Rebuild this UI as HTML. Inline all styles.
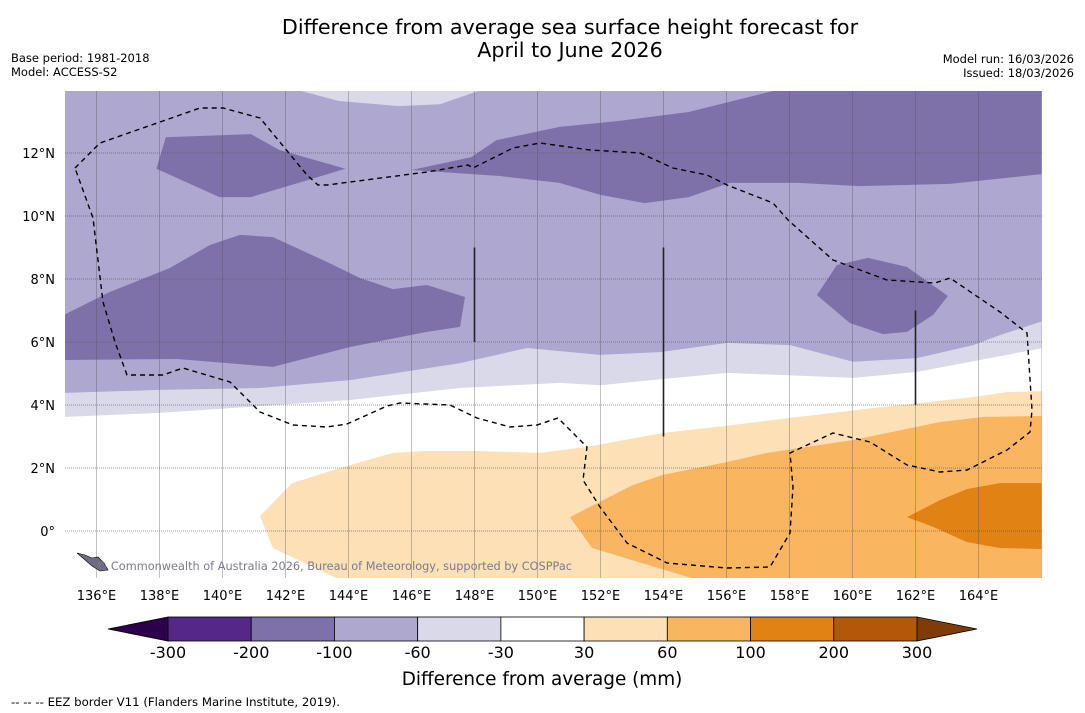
<!DOCTYPE html>
<html><head><meta charset="utf-8"><style>
body{margin:0;background:#fff;}
svg{display:block;font-family:"DejaVu Sans","Liberation Sans",sans-serif;}
</style></head><body>
<svg id="chart" width="1085" height="713" viewBox="0 0 1085 713" xmlns="http://www.w3.org/2000/svg">
<rect width="1085" height="713" fill="#fff"/>
<text x="570" y="34" font-size="20.7" text-anchor="middle" fill="#000">Difference from average sea surface height forecast for</text>
<text x="570" y="57" font-size="20.7" text-anchor="middle" fill="#000">April to June 2026</text>
<text x="11" y="62" font-size="11.5">Base period: 1981-2018</text>
<text x="11" y="76" font-size="11.5">Model: ACCESS-S2</text>
<text x="1074" y="63" font-size="11.5" text-anchor="end">Model run: 16/03/2026</text>
<text x="1074" y="77" font-size="11.5" text-anchor="end">Issued: 18/03/2026</text>
<defs><clipPath id="mapclip"><rect x="65" y="91" width="977" height="487"/></clipPath></defs>
<g id="map" clip-path="url(#mapclip)"></g>
<g id="axes"></g>
<g id="cbar"></g>
<text x="542" y="685" font-size="18.4" text-anchor="middle">Difference from average (mm)</text>
<text x="11" y="706" font-size="11.5" textLength="329" lengthAdjust="spacingAndGlyphs">--  --  -- EEZ border V11 (Flanders Marine Institute, 2019).</text>
</svg>
<script>
// ---- data ----
const lonTicks = [136,138,140,142,144,146,148,150,152,154,156,158,160,162,164];
const latTicks = [0,2,4,6,8,10,12];
const levels = [-300,-200,-100,-60,-30,30,60,100,200,300];
const levelColors = ["#542788","#7e71aa","#aea7cf","#d9d9ea","#ffffff","#fde0b6","#f9b55f","#e08214","#b35806"];
const extLow = "#2d004b", extHigh = "#7f3b08";
// contour polygons [lon,lat]
const lavenderBand = [[134.9,4.38],[138.02,4.48],[141.19,4.54],[144.05,4.79],[147.54,5.33],[149.67,5.81],[151.98,5.59],[153.89,5.68],[156.02,5.97],[158.02,5.9],[160.02,5.37],[162.05,5.49],[163.83,5.9],[164.68,6.22],[166,6.65],[166,-2],[134.9,-2]];
const whiteBand = [[134.9,3.62],[138.02,3.75],[144.05,4.16],[147.54,4.54],[150.71,4.7],[151.98,4.63],[156.02,5.02],[160.02,4.86],[162.05,5.05],[166,5.8],[166,-2],[134.9,-2]];
const topLightStrip = [[142.0,14.1],[143.7,13.65],[145.6,13.49],[146.9,13.55],[148.5,14.1]];
const darkTopLeft = [[138.2,12.5],[140.9,12.6],[141.8,12.1],[143.9,11.5],[142.9,11.2],[140.9,10.6],[139.9,10.6],[137.9,11.5]];
const darkTopRight = [[146.0,11.46],[147.9,11.87],[148.7,12.41],[150.7,12.83],[152.6,13.02],[154.8,13.3],[158.0,14.1],[166,14.1],[166,11.33],[163.1,11.02],[160.2,10.95],[158.3,11.05],[156.1,11.05],[154.8,10.6],[153.4,10.41],[152.0,10.67],[150.7,11.05],[148.8,11.27]];
const darkMidLeft = [[134.9,6.83],[136.43,7.59],[138.33,8.35],[139.6,9.08],[140.56,9.4],[141.6,9.33],[143.32,8.54],[144.37,8.03],[145.41,7.68],[146.49,7.81],[147.7,7.43],[147.54,6.48],[146.49,6.32],[144.05,5.84],[141.6,5.21],[138.56,5.46],[134.9,5.43]];
const darkMidRight = [[158.87,7.49],[159.5,8.44],[160.49,8.67],[161.73,8.38],[163.03,7.46],[162.56,6.86],[161.73,6.32],[160.97,6.25],[159.92,6.6]];
const paleOrange = [[141.19,0.48],[142.21,1.52],[143.83,2.03],[145.41,2.48],[146.49,2.54],[148.08,2.54],[150.08,2.48],[151.57,2.67],[153.98,3.11],[155.89,3.33],[158.02,3.59],[160.65,3.9],[163.83,4.25],[164.9,4.41],[166,4.44],[166,-1.7],[144.05,-1.7],[141.6,-0.54]];
const orange = [[151.03,0.44],[153.03,1.46],[153.98,1.78],[156.02,2.19],[157.29,2.48],[160.02,2.89],[162.78,3.46],[164.14,3.62],[166,3.65],[166,-1.7],[155.57,-1.7],[151.73,-0.54]];
const darkOrange = [[161.73,0.44],[162.78,0.98],[163.63,1.33],[164.68,1.52],[166,1.52],[166,-0.57],[164.68,-0.54],[163.63,-0.35],[162.56,0.13]];
// basemap EEZ border (pixel geometry)
const eezPath = [[75,168],[100,143],[160,122],[200,108],[223,108],[260,118],[307,175],[318,185],[327,185],[427,172],[468,165],[473,168],[513,148],[540,143],[590,150],[640,153],[673,168],[707,175],[727,185],[773,203],[788,220],[833,260],[887,280],[935,283],[950,278],[1000,312],[1027,333],[1032,410],[1030,432],[1007,450],[967,470],[940,472],[907,465],[870,442],[833,433],[790,453],[793,487],[790,533],[770,567],[727,568],[667,563],[627,543],[600,507],[583,480],[587,447],[558,418],[537,425],[510,427],[477,418],[450,405],[400,403],[387,406],[347,424],[327,427],[293,425],[260,412],[230,382],[183,368],[163,375],[127,375],[115,342],[103,302],[97,252],[93,218],[75,168]];
const vertMarks = [[148,6,9],[154,3,9],[162,4,7]];

// ---- axes functions ----
const X = lon => 65 + (lon-135)*31.5;
const Y = lat => 531 - lat*31.5;
const NS = "http://www.w3.org/2000/svg";
function mk(tag, attrs, parent){const e=document.createElementNS(NS,tag);for(const k in attrs)e.setAttribute(k,attrs[k]);parent.appendChild(e);return e;}
const map = document.getElementById('map');
const axes = document.getElementById('axes');
const cbar = document.getElementById('cbar');
function poly(pts, fill, name){
  const p = mk('polygon',{points:pts.map(q=>X(q[0]).toFixed(1)+','+Y(q[1]).toFixed(1)).join(' '),fill:fill},map);
  
  
}
const bg = mk('rect',{x:65,y:91,width:977,height:487,fill:levelColors[2]},map);


poly(topLightStrip, levelColors[3], 'contour-light-top');
poly(darkTopLeft, levelColors[1], 'contour-dark-top-left');
poly(darkTopRight, levelColors[1], 'contour-dark-top-right');
poly(darkMidLeft, levelColors[1], 'contour-dark-mid-left');
poly(darkMidRight, levelColors[1], 'contour-dark-mid-right');
poly(lavenderBand, levelColors[3], 'contour-lavender-band');
poly(whiteBand, levelColors[4], 'contour-neutral-band');
poly(paleOrange, levelColors[5], 'contour-pale-orange');
poly(orange, levelColors[6], 'contour-orange');
poly(darkOrange, levelColors[7], 'contour-dark-orange');
// grid
lonTicks.forEach(l=>{
  const g = mk('line',{x1:X(l),x2:X(l),y1:91,y2:578,stroke:'#555','stroke-width':0.8,'stroke-opacity':0.45},map);
  
  
});
latTicks.forEach(l=>{
  const g = mk('line',{x1:65,x2:1042,y1:Y(l),y2:Y(l),stroke:'#555','stroke-width':0.9,'stroke-dasharray':'1,1','stroke-opacity':0.6},map);
  
  
});
vertMarks.forEach(v=>{
  const m = mk('line',{x1:X(v[0]),x2:X(v[0]),y1:Y(v[2]),y2:Y(v[1]),stroke:'#222','stroke-width':1.6},map);
  
  
});
const eez = mk('polyline',{points:eezPath.map(p=>p.join(',')).join(' '),fill:'none',stroke:'#000','stroke-width':1.4,'stroke-dasharray':'5,4'},map);


const isl = mk('path',{d:'M77,553 L85,555 L92,558 L98,557 L104,563 L108,570 L100,571 L92,566 L84,559 Z',fill:'#6f6a80',stroke:'#000','stroke-width':0.6},map);


const cp = mk('text',{x:96,y:570,'font-size':11.5,fill:'#7a7a90',textLength:476,lengthAdjust:'spacingAndGlyphs'},map);
cp.textContent = '© Commonwealth of Australia 2026, Bureau of Meteorology, supported by COSPPac';


// tick labels
lonTicks.forEach(l=>{
  const t = mk('text',{x:X(l),y:600,'font-size':13,'text-anchor':'middle'},axes);
  t.textContent = l+'°E';
  
  
});
latTicks.forEach(l=>{
  const t = mk('text',{x:55,y:Y(l)+5,'font-size':13,'text-anchor':'end'},axes);
  t.textContent = l===0 ? '0°' : l+'°N';
  
  
});
// colorbar
const cx0=168, cx1=917, cy=617, ch=24, bw=(cx1-cx0)/levelColors.length;
const tl = mk('polygon',{points:`${cx0},${cy} 108,${cy+ch/2} ${cx0},${cy+ch}`,fill:extLow,stroke:'#000','stroke-width':0.8},cbar);


const tr = mk('polygon',{points:`${cx1},${cy} 977,${cy+ch/2} ${cx1},${cy+ch}`,fill:extHigh,stroke:'#000','stroke-width':0.8},cbar);


levelColors.forEach((c,i)=>{
  const r = mk('rect',{x:cx0+i*bw,y:cy,width:bw,height:ch,fill:c,stroke:'#000','stroke-width':0.8},cbar);
  
  
});
levels.forEach((v,i)=>{
  const t = mk('text',{x:cx0+i*bw,y:658,'font-size':16,'text-anchor':'middle'},cbar);
  t.textContent = v;
  
  
});
</script>
</body></html>
